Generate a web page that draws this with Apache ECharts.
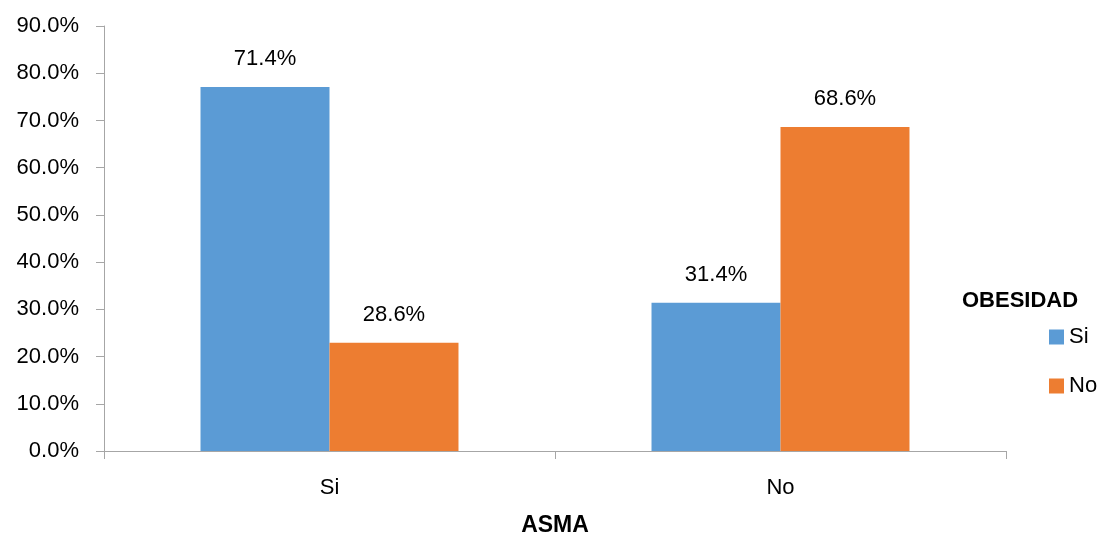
<!DOCTYPE html>
<html><head><meta charset="utf-8">
<script src="https://cdn.jsdelivr.net/npm/echarts@6/dist/echarts.min.js"></script>
<style>html,body{margin:0;padding:0;background:#fff}#c{width:1101px;height:536px}</style>
</head><body><div id="c"></div>
<script>
const categories = ['Si', 'No'];
const seriesNames = ['Si', 'No'];
const barSi = [77.1, 31.4];
const barNo = [22.9, 68.6];
const labelSi = ['71.4%', '31.4%'];
const labelNo = ['28.6%', '68.6%'];
const yTicks = [0, 10, 20, 30, 40, 50, 60, 70, 80, 90];

const FONT = 'Liberation Sans';
const chart = echarts.init(document.getElementById('c'));
function mk(name, data, labels, color) {
  return {
    name: name, type: 'bar', data: data,
    barGap: '0%', barCategoryGap: '42.8%',
    itemStyle: { color: color },
    label: { show: true, position: 'top', distance: 17, color: '#000', fontFamily: FONT, fontSize: 22,
      formatter: p => labels[p.dataIndex] }
  };
}
chart.setOption({
  animation: false,
  title: { text: 'OBESIDAD', left: 957, top: 285,
    textStyle: { fontFamily: FONT, fontWeight: 'bold', fontSize: 22, color: '#000' } },
  legend: { orient: 'vertical', left: 1044, top: 321, itemWidth: 15, itemHeight: 15, itemGap: 27,
    icon: 'rect', data: seriesNames,
    textStyle: { fontFamily: FONT, fontSize: 22, color: '#000' } },
  grid: { left: 104, right: 95, top: 26, bottom: 85, outerBoundsMode: 'none', containLabel: false },
  xAxis: {
    type: 'category', data: categories, name: 'ASMA', nameLocation: 'middle', nameGap: 63,
    nameTextStyle: { fontFamily: FONT, fontWeight: 'bold', fontSize: 23, color: '#000' },
    axisLine: { lineStyle: { color: '#A6A6A6', width: 1 } },
    axisTick: { show: true, length: 8, lineStyle: { color: '#A6A6A6' } },
    axisLabel: { fontFamily: FONT, fontSize: 22, color: '#000', margin: 26 }
  },
  yAxis: {
    type: 'value', min: yTicks[0], max: yTicks[yTicks.length - 1], interval: 10,
    axisLine: { show: true, lineStyle: { color: '#A6A6A6', width: 1 } },
    axisTick: { show: true, length: 8, lineStyle: { color: '#A6A6A6' } },
    splitLine: { show: false },
    axisLabel: { fontFamily: FONT, fontSize: 22, color: '#000', margin: 25,
      formatter: v => v.toFixed(1) + '%' }
  },
  series: [mk(seriesNames[0], barSi, labelSi, '#5B9BD5'), mk(seriesNames[1], barNo, labelNo, '#ED7D31')]
});
</script></body></html>
